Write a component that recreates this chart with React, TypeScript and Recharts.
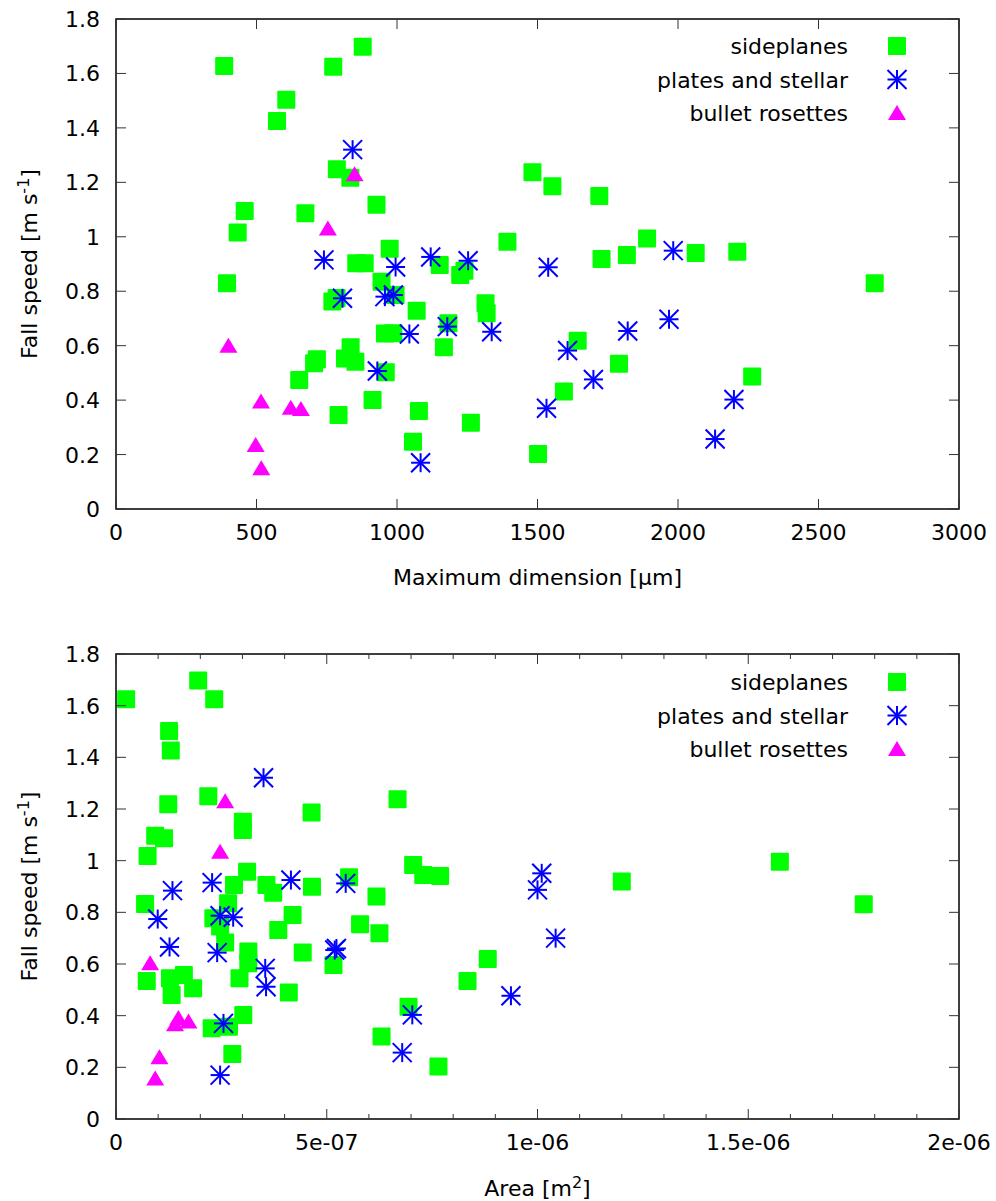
import { ScatterChart, Scatter, XAxis, YAxis, ReferenceArea, Legend } from 'recharts';

// no page margin and no scrollbars, so the two charts fill the window exactly
if (typeof document !== 'undefined') {
  document.body.style.margin = '0';
  document.documentElement.style.overflow = 'hidden';
  document.body.style.overflow = 'hidden';
}

const FONT = '"DejaVu Sans", sans-serif';
const TICK = '#333';
const GREEN = '#00ff00';
const BLUE = '#0000ff';
const MAGENTA = '#ff00ff';

// tick values
const speedTicks = [0, 0.2, 0.4, 0.6, 0.8, 1, 1.2, 1.4, 1.6, 1.8];
const dimTicks = [0, 500, 1000, 1500, 2000, 2500, 3000];
const areaTicks = [
  0, 1e-7, 2e-7, 3e-7, 4e-7, 5e-7, 6e-7, 7e-7, 8e-7, 9e-7, 1e-6,
  1.1e-6, 1.2e-6, 1.3e-6, 1.4e-6, 1.5e-6, 1.6e-6, 1.7e-6, 1.8e-6, 1.9e-6, 2e-6,
];
const areaMajorTicks = [0, 5e-7, 1e-6, 1.5e-6, 2e-6];
const areaMajorLabels = ['0', '5e-07', '1e-06', '1.5e-06', '2e-06'];

// fall speed vs maximum dimension [µm]
const sideplanesDmax = [
  { x: 385, y: 1.627 }, { x: 878, y: 1.698 }, { x: 773, y: 1.625 }, { x: 606, y: 1.503 },
  { x: 573, y: 1.425 }, { x: 786, y: 1.248 }, { x: 834, y: 1.217 }, { x: 927, y: 1.118 },
  { x: 458, y: 1.095 }, { x: 433, y: 1.016 }, { x: 674, y: 1.086 }, { x: 974, y: 0.956 },
  { x: 1393, y: 0.982 }, { x: 1482, y: 1.237 }, { x: 1553, y: 1.186 }, { x: 1720, y: 1.15 },
  { x: 1728, y: 0.918 }, { x: 1818, y: 0.933 }, { x: 1890, y: 0.994 }, { x: 2063, y: 0.94 },
  { x: 2211, y: 0.945 }, { x: 395, y: 0.829 }, { x: 855, y: 0.903 }, { x: 885, y: 0.903 },
  { x: 1152, y: 0.896 }, { x: 1225, y: 0.86 }, { x: 1240, y: 0.875 }, { x: 945, y: 0.835 },
  { x: 770, y: 0.762 }, { x: 785, y: 0.775 }, { x: 995, y: 0.786 }, { x: 1070, y: 0.728 },
  { x: 1315, y: 0.756 }, { x: 1319, y: 0.719 }, { x: 1183, y: 0.682 }, { x: 957, y: 0.645 },
  { x: 987, y: 0.646 }, { x: 1167, y: 0.594 }, { x: 705, y: 0.535 }, { x: 715, y: 0.55 },
  { x: 835, y: 0.594 }, { x: 815, y: 0.553 }, { x: 852, y: 0.541 }, { x: 960, y: 0.502 },
  { x: 652, y: 0.474 }, { x: 792, y: 0.345 }, { x: 913, y: 0.4 }, { x: 1078, y: 0.36 },
  { x: 1263, y: 0.317 }, { x: 1057, y: 0.247 }, { x: 1502, y: 0.202 }, { x: 2700, y: 0.829 },
  { x: 1643, y: 0.618 }, { x: 1790, y: 0.534 }, { x: 1594, y: 0.432 }, { x: 2264, y: 0.487 },
];
const platesDmax = [
  { x: 842, y: 1.32 }, { x: 740, y: 0.915 }, { x: 995, y: 0.889 }, { x: 1120, y: 0.926 },
  { x: 1253, y: 0.912 }, { x: 1983, y: 0.949 }, { x: 1538, y: 0.888 }, { x: 806, y: 0.774 },
  { x: 957, y: 0.78 }, { x: 987, y: 0.786 }, { x: 1179, y: 0.67 }, { x: 1337, y: 0.651 },
  { x: 1044, y: 0.643 }, { x: 930, y: 0.507 }, { x: 1084, y: 0.17 }, { x: 1532, y: 0.37 },
  { x: 1968, y: 0.697 }, { x: 1821, y: 0.654 }, { x: 1607, y: 0.582 }, { x: 1699, y: 0.476 },
  { x: 2199, y: 0.402 }, { x: 2132, y: 0.257 },
];
const bulletsDmax = [
  { x: 849, y: 1.23 }, { x: 754, y: 1.03 }, { x: 400, y: 0.6 }, { x: 516, y: 0.395 },
  { x: 622, y: 0.372 }, { x: 658, y: 0.367 }, { x: 497, y: 0.235 }, { x: 517, y: 0.15 },
];

// fall speed vs area [m^2]
const sideplanesArea = [
  { x: 0.24e-7, y: 1.625 }, { x: 1.95e-7, y: 1.697 }, { x: 2.33e-7, y: 1.625 }, { x: 1.26e-7, y: 1.502 },
  { x: 1.3e-7, y: 1.426 }, { x: 2.19e-7, y: 1.249 }, { x: 1.24e-7, y: 1.218 }, { x: 3.01e-7, y: 1.151 },
  { x: 3.01e-7, y: 1.119 }, { x: 4.64e-7, y: 1.186 }, { x: 6.68e-7, y: 1.238 }, { x: 0.93e-7, y: 1.096 },
  { x: 1.14e-7, y: 1.087 }, { x: 0.75e-7, y: 1.018 }, { x: 3.11e-7, y: 0.957 }, { x: 2.8e-7, y: 0.906 },
  { x: 3.57e-7, y: 0.906 }, { x: 3.73e-7, y: 0.876 }, { x: 2.66e-7, y: 0.835 }, { x: 0.69e-7, y: 0.832 },
  { x: 2.31e-7, y: 0.777 }, { x: 2.47e-7, y: 0.745 }, { x: 4.19e-7, y: 0.79 }, { x: 3.85e-7, y: 0.732 },
  { x: 2.59e-7, y: 0.683 }, { x: 3.14e-7, y: 0.648 }, { x: 3.14e-7, y: 0.603 }, { x: 4.43e-7, y: 0.645 },
  { x: 2.93e-7, y: 0.545 }, { x: 0.73e-7, y: 0.534 }, { x: 1.28e-7, y: 0.545 }, { x: 1.61e-7, y: 0.557 },
  { x: 1.32e-7, y: 0.48 }, { x: 1.83e-7, y: 0.506 }, { x: 4.1e-7, y: 0.49 }, { x: 4.65e-7, y: 0.899 },
  { x: 5.53e-7, y: 0.936 }, { x: 6.18e-7, y: 0.861 }, { x: 7.05e-7, y: 0.983 }, { x: 7.29e-7, y: 0.945 },
  { x: 7.69e-7, y: 0.941 }, { x: 5.79e-7, y: 0.754 }, { x: 6.25e-7, y: 0.719 }, { x: 5.16e-7, y: 0.596 },
  { x: 8.82e-7, y: 0.619 }, { x: 8.34e-7, y: 0.534 }, { x: 7.65e-7, y: 0.203 }, { x: 6.94e-7, y: 0.435 },
  { x: 6.3e-7, y: 0.319 }, { x: 12.0e-7, y: 0.919 }, { x: 15.75e-7, y: 0.996 }, { x: 17.74e-7, y: 0.831 },
  { x: 2.27e-7, y: 0.351 }, { x: 2.68e-7, y: 0.357 }, { x: 3.02e-7, y: 0.403 }, { x: 2.76e-7, y: 0.252 },
];
const platesArea = [
  { x: 3.5e-7, y: 1.321 }, { x: 1.34e-7, y: 0.884 }, { x: 2.28e-7, y: 0.915 }, { x: 4.15e-7, y: 0.925 },
  { x: 0.99e-7, y: 0.774 }, { x: 2.47e-7, y: 0.787 }, { x: 2.78e-7, y: 0.781 }, { x: 1.27e-7, y: 0.666 },
  { x: 2.4e-7, y: 0.644 }, { x: 3.54e-7, y: 0.583 }, { x: 3.56e-7, y: 0.512 }, { x: 2.55e-7, y: 0.37 },
  { x: 2.47e-7, y: 0.17 }, { x: 5.45e-7, y: 0.912 }, { x: 5.19e-7, y: 0.654 }, { x: 5.23e-7, y: 0.66 },
  { x: 10.1e-7, y: 0.951 }, { x: 10.0e-7, y: 0.887 }, { x: 10.43e-7, y: 0.7 }, { x: 9.37e-7, y: 0.477 },
  { x: 7.03e-7, y: 0.403 }, { x: 6.79e-7, y: 0.257 },
];
const bulletsArea = [
  { x: 2.59e-7, y: 1.23 }, { x: 2.47e-7, y: 1.035 }, { x: 0.81e-7, y: 0.603 }, { x: 1.48e-7, y: 0.391 },
  { x: 1.72e-7, y: 0.377 }, { x: 1.4e-7, y: 0.367 }, { x: 1.03e-7, y: 0.239 }, { x: 0.93e-7, y: 0.157 },
];

const SERIES_NAMES = ['sideplanes', 'plates and stellar', 'bullet rosettes'];

function marker(kind: string, cx: number, cy: number) {
  if (kind === 'sideplanes') {
    return <rect x={cx - 9} y={cy - 9} width={18} height={18} rx={1} fill={GREEN} />;
  }
  if (kind === 'plates and stellar') {
    const s = 9.5;
    return (
      <g stroke={BLUE} strokeWidth={2}>
        <line x1={cx - s} y1={cy} x2={cx + s} y2={cy} />
        <line x1={cx} y1={cy - s} x2={cx} y2={cy + s} />
        <line x1={cx - s} y1={cy - s} x2={cx + s} y2={cy + s} />
        <line x1={cx - s} y1={cy + s} x2={cx + s} y2={cy - s} />
      </g>
    );
  }
  return <polygon points={`${cx},${cy - 8} ${cx - 9},${cy + 7} ${cx + 9},${cy + 7}`} fill={MAGENTA} />;
}

const squareShape = (p: any) => marker('sideplanes', p.cx, p.cy);
const starShape = (p: any) => marker('plates and stellar', p.cx, p.cy);
const triangleShape = (p: any) => marker('bullet rosettes', p.cx, p.cy);

const W = 996;
const PLOT_W = 843;

function makeXTick(plotH: number, labelFor: (v: number) => string | null) {
  return (props: any) => {
    const { x, y, payload } = props;
    const text = labelFor(payload.value);
    const len = text === null ? 5 : 10;
    return (
      <g>
        <line x1={x} y1={y} x2={x} y2={y - len} stroke={TICK} />
        <line x1={x} y1={y - plotH} x2={x} y2={y - plotH + len} stroke={TICK} />
        {text !== null && (
          <text x={x} y={y + 31} textAnchor="middle" fontSize={22} fontFamily={FONT} fill="#000">
            {text}
          </text>
        )}
      </g>
    );
  };
}

const YTick = (props: any) => {
  const { x, y, payload } = props;
  return (
    <g>
      <line x1={x} y1={y} x2={x + 10} y2={y} stroke={TICK} />
      <line x1={x + PLOT_W} y1={y} x2={x + PLOT_W - 10} y2={y} stroke={TICK} />
      <text x={x - 16} y={y + 8} textAnchor="end" fontSize={22} fontFamily={FONT} fill="#000">
        {String(payload.value)}
      </text>
    </g>
  );
};

const yLabel = (props: any) => {
  const vb = props.viewBox || { x: 0, y: 0, width: 116, height: 490 };
  const cx = 37;
  const cy = vb.y + vb.height / 2;
  return (
    <text transform={`rotate(-90 ${cx} ${cy})`} x={cx} y={cy} textAnchor="middle" fontSize={22} fontFamily={FONT} fill="#000">
      Fall speed [m s<tspan dy={-8} fontSize={16}>-1</tspan><tspan dy={8}>]</tspan>
    </text>
  );
};

const dimLabel = (props: any) => {
  const vb = props.viewBox || { x: 116, y: 509, width: PLOT_W, height: 60 };
  return (
    <text x={vb.x + vb.width / 2} y={vb.y + 76} textAnchor="middle" fontSize={22} fontFamily={FONT} fill="#000">
      Maximum dimension [µm]
    </text>
  );
};

const areaLabel = (props: any) => {
  const vb = props.viewBox || { x: 116, y: 519, width: PLOT_W, height: 60 };
  return (
    <text x={vb.x + vb.width / 2} y={vb.y + 77} textAnchor="middle" fontSize={22} fontFamily={FONT} fill="#000">
      Area [m<tspan dy={-8} fontSize={16}>2</tspan><tspan dy={8}>]</tspan>
    </text>
  );
};

function makeLegend(firstRowY: number) {
  return () => (
    <svg width={W} height={firstRowY + 90} style={{ display: 'block', pointerEvents: 'none' }}>
      {SERIES_NAMES.map((name, i) => {
        const cy = firstRowY + i * 33.5;
        return (
          <g key={name}>
            <text x={848} y={cy + 8} textAnchor="end" fontSize={22} fontFamily={FONT} fill="#000">
              {name}
            </text>
            {marker(name, 897, cy)}
          </g>
        );
      })}
    </svg>
  );
}

const dimTickLabel = (v: number) => String(v);
const areaTickLabel = (v: number) => {
  const i = areaMajorTicks.findIndex((m) => Math.abs(m - v) < 1e-12);
  return i >= 0 ? areaMajorLabels[i] : null;
};

export default function App() {
  return (
    <div style={{ width: W, height: 1201, background: '#fff', overflow: 'hidden' }}>
      <ScatterChart width={W} height={600} margin={{ top: 19, right: 37, bottom: 31, left: 0 }}>
        <XAxis
          type="number"
          dataKey="x"
          domain={[0, 3000]}
          ticks={dimTicks}
          interval={0}
          tickSize={0}
          tickMargin={0}
          axisLine={false}
          tickLine={false}
          height={60}
          tick={makeXTick(490, dimTickLabel)}
          label={{ content: dimLabel }}
        />
        <YAxis
          type="number"
          dataKey="y"
          domain={[0, 1.8]}
          ticks={speedTicks}
          interval={0}
          tickSize={0}
          tickMargin={0}
          axisLine={false}
          tickLine={false}
          width={116}
          tick={YTick}
          label={{ content: yLabel }}
        />
        <ReferenceArea x1={0} x2={3000} y1={0} y2={1.8} fill="none" stroke="#000" strokeWidth={1.5} ifOverflow="visible" />
        <Scatter name="sideplanes" data={sideplanesDmax} fill={GREEN} shape={squareShape} isAnimationActive={false} />
        <Scatter name="plates and stellar" data={platesDmax} fill={BLUE} shape={starShape} isAnimationActive={false} />
        <Scatter name="bullet rosettes" data={bulletsDmax} fill={MAGENTA} shape={triangleShape} isAnimationActive={false} />
        <Legend
          layout="vertical"
          align="center"
          verticalAlign="middle"
          content={makeLegend(46)}
          wrapperStyle={{ top: 0, left: 0, width: W }}
        />
      </ScatterChart>
      <ScatterChart width={W} height={601} margin={{ top: 54, right: 37, bottom: 22, left: 0 }}>
        <XAxis
          type="number"
          dataKey="x"
          domain={[0, 2e-6]}
          ticks={areaTicks}
          interval={0}
          tickSize={0}
          tickMargin={0}
          axisLine={false}
          tickLine={false}
          height={60}
          tick={makeXTick(465, areaTickLabel)}
          label={{ content: areaLabel }}
        />
        <YAxis
          type="number"
          dataKey="y"
          domain={[0, 1.8]}
          ticks={speedTicks}
          interval={0}
          tickSize={0}
          tickMargin={0}
          axisLine={false}
          tickLine={false}
          width={116}
          tick={YTick}
          label={{ content: yLabel }}
        />
        <ReferenceArea x1={0} x2={2e-6} y1={0} y2={1.8} fill="none" stroke="#000" strokeWidth={1.5} ifOverflow="visible" />
        <Scatter name="sideplanes" data={sideplanesArea} fill={GREEN} shape={squareShape} isAnimationActive={false} />
        <Scatter name="plates and stellar" data={platesArea} fill={BLUE} shape={starShape} isAnimationActive={false} />
        <Scatter name="bullet rosettes" data={bulletsArea} fill={MAGENTA} shape={triangleShape} isAnimationActive={false} />
        <Legend
          layout="vertical"
          align="center"
          verticalAlign="middle"
          content={makeLegend(82)}
          wrapperStyle={{ top: 0, left: 0, width: W }}
        />
      </ScatterChart>
    </div>
  );
}
